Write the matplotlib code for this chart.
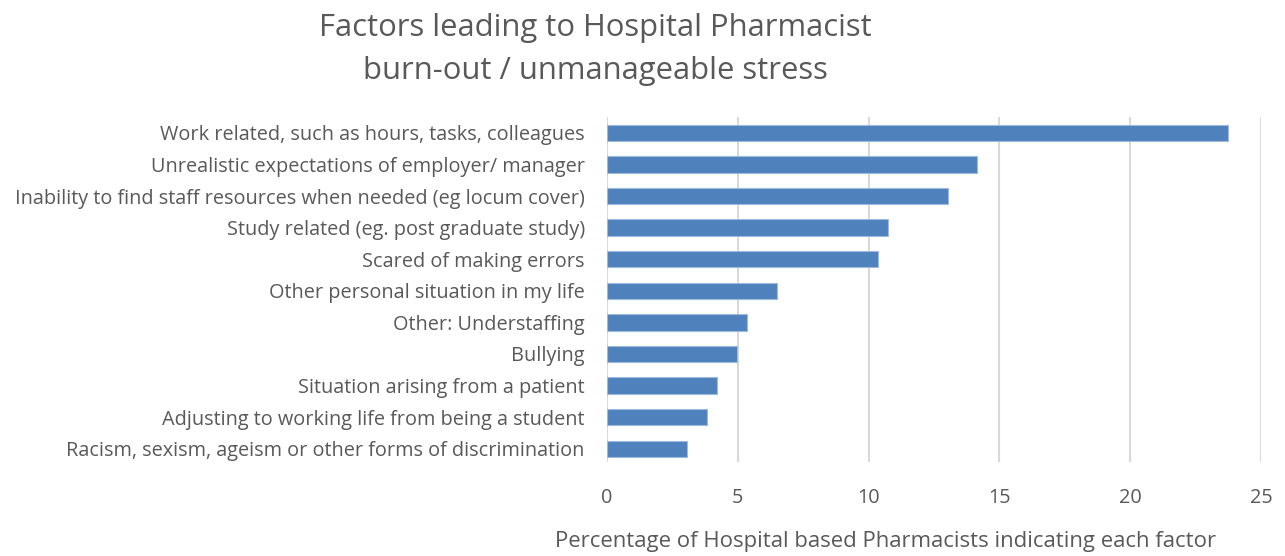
import matplotlib
matplotlib.use("Agg")
import matplotlib.pyplot as plt

plt.rcParams['font.family'] = ['Open Sans', 'DejaVu Sans']

factors = [
    "Work related, such as hours, tasks, colleagues",
    "Unrealistic expectations of employer/ manager",
    "Inability to find staff resources when needed (eg locum cover)",
    "Study related (eg. post graduate study)",
    "Scared of making errors",
    "Other personal situation in my life",
    "Other: Understaffing",
    "Bullying",
    "Situation arising from a patient",
    "Adjusting to working life from being a student",
    "Racism, sexism, ageism or other forms of discrimination",
]
percentages = [23.74, 14.14, 13.05, 10.74, 10.34, 6.50, 5.34, 4.96, 4.21, 3.83, 3.07]
x_ticks = [0, 5, 10, 15, 20, 25]

text_grey = '#595959'

fig = plt.figure(figsize=(12.85, 5.56), dpi=100)
ax = fig.add_axes([0.4724, 0.169, 0.509, 0.6205])

pos = list(range(len(factors)))
ax.barh(pos, percentages, height=0.52, color='#4f81bd', edgecolor='#9db9dc', linewidth=0.8, zorder=3)

ax.set_xlim(0, 25)
ax.set_ylim(10.42, -0.5)
ax.set_xticks(x_ticks)
ax.set_yticks(pos)
ax.set_yticklabels(factors)

ax.grid(axis='x', color='#d9d9d9', linewidth=1.5, zorder=0)
for s in ax.spines.values():
    s.set_visible(False)
ax.tick_params(axis='both', length=0, colors=text_grey, labelsize=14.3)
ax.tick_params(axis='y', pad=16)
ax.tick_params(axis='x', pad=19)

fig.text(0.689, 0.026, 'Percentage of Hospital based Pharmacists indicating each factor',
         ha='center', va='center', fontsize=15.9, color=text_grey)

fig.text(0.463, 0.976, 'Factors leading to Hospital Pharmacist\nburn-out / unmanageable stress',
         ha='center', va='top', fontsize=22.3, color=text_grey, linespacing=1.55)

fig.savefig('out.png', dpi=100)
